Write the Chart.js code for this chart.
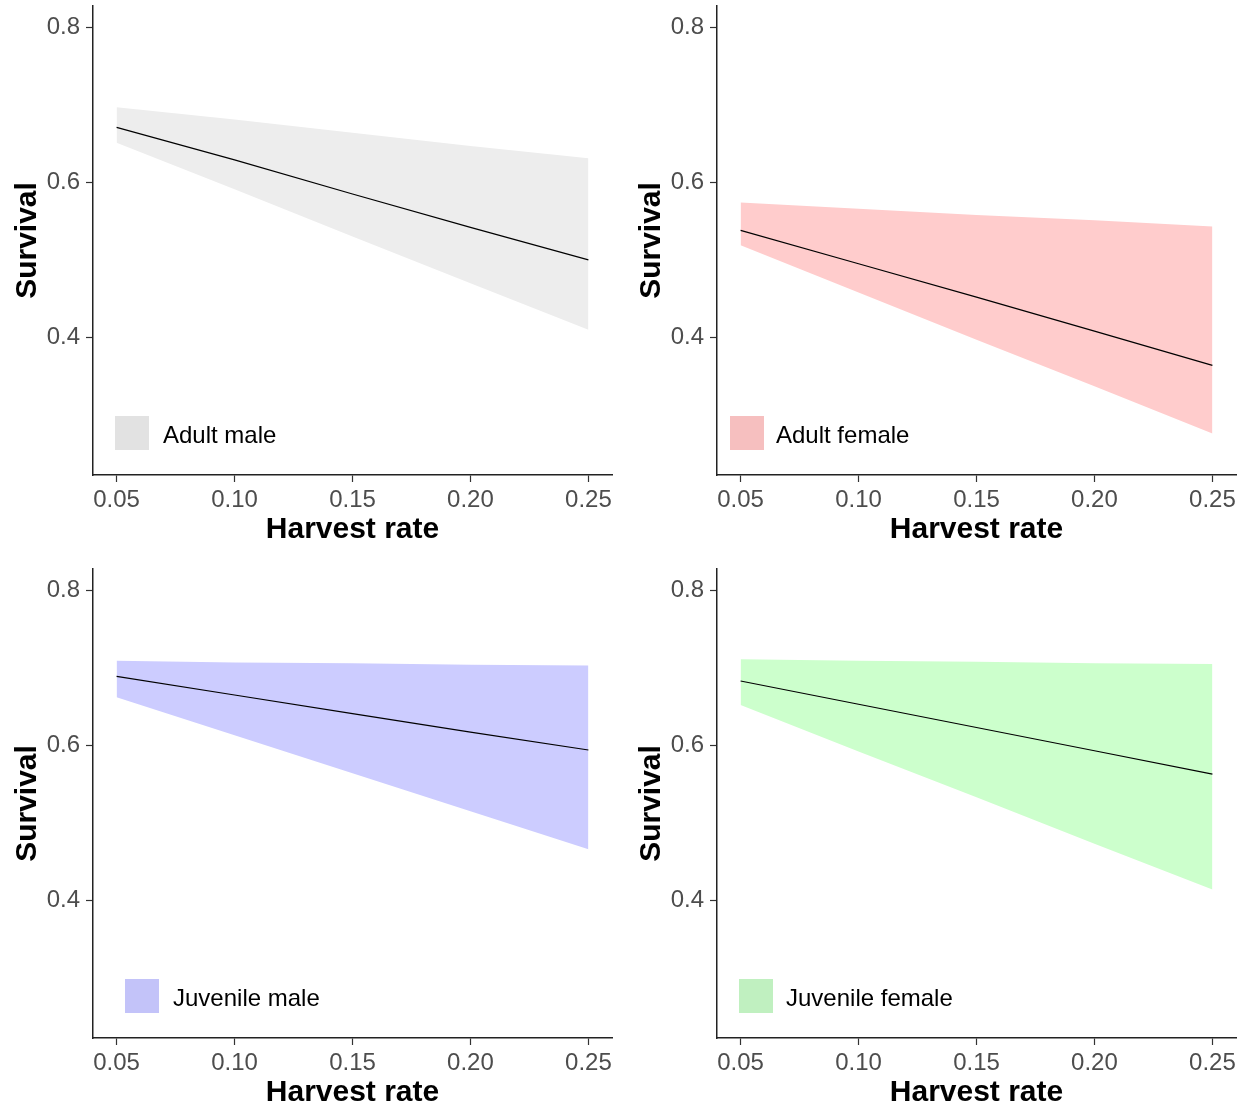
<!DOCTYPE html>
<html>
<head>
<meta charset="utf-8">
<script src="https://cdn.jsdelivr.net/npm/chart.js@4.4.1/dist/chart.umd.min.js"></script>
<style>
  body { margin: 0; background: #fff; }
  .panel { position: absolute; }
</style>
</head>
<body>
<div class="panel" style="left:0;top:0"><canvas id="p1" width="623" height="548"></canvas></div>
<div class="panel" style="left:624px;top:0"><canvas id="p2" width="623" height="548"></canvas></div>
<div class="panel" style="left:0;top:563px"><canvas id="p3" width="623" height="548"></canvas></div>
<div class="panel" style="left:624px;top:563px"><canvas id="p4" width="623" height="548"></canvas></div>
<script>
const harvestRate = [0.05, 0.10, 0.15, 0.20, 0.25];
const xTicks = [0.05, 0.10, 0.15, 0.20, 0.25];
const yTicks = [0.4, 0.6, 0.8];
const groupNames = ['Adult male', 'Adult female', 'Juvenile male', 'Juvenile female'];

// fitted survival + band, one value per harvest rate
const adultMaleFit   = [0.671, 0.629, 0.585, 0.542, 0.500];
const adultMaleUpper = [0.697, 0.681, 0.664, 0.647, 0.631];
const adultMaleLower = [0.651, 0.591, 0.530, 0.470, 0.410];

const adultFemaleFit   = [0.538, 0.495, 0.452, 0.408, 0.364];
const adultFemaleUpper = [0.574, 0.566, 0.558, 0.551, 0.543];
const adultFemaleLower = [0.519, 0.458, 0.397, 0.337, 0.276];

const juvMaleFit   = [0.689, 0.665, 0.641, 0.617, 0.594];
const juvMaleUpper = [0.709, 0.707, 0.706, 0.704, 0.703];
const juvMaleLower = [0.662, 0.613, 0.564, 0.515, 0.466];

const juvFemaleFit   = [0.683, 0.653, 0.623, 0.593, 0.563];
const juvFemaleUpper = [0.711, 0.709, 0.708, 0.706, 0.705];
const juvFemaleLower = [0.652, 0.592, 0.533, 0.473, 0.414];

const FONT = "'Liberation Sans', Arial, sans-serif";

const panels = [
  { id: 'p1', name: groupNames[0], fit: adultMaleFit, upper: adultMaleUpper, lower: adultMaleLower,
    band: '#ededed', key: '#e2e2e2', keyX: 115, textX: 163 },
  { id: 'p2', name: groupNames[1], fit: adultFemaleFit, upper: adultFemaleUpper, lower: adultFemaleLower,
    band: '#ffcccc', key: '#f6bfbf', keyX: 106, textX: 152 },
  { id: 'p3', name: groupNames[2], fit: juvMaleFit, upper: juvMaleUpper, lower: juvMaleLower,
    band: '#ccccff', key: '#c3c3f9', keyX: 125, textX: 173 },
  { id: 'p4', name: groupNames[3], fit: juvFemaleFit, upper: juvFemaleUpper, lower: juvFemaleLower,
    band: '#ccffcc', key: '#c0f0c0', keyX: 115, textX: 162 }
];

function pts(vals) {
  return harvestRate.map((x, i) => ({ x: x, y: vals[i] }));
}

// legend key drawn inside the plot, like ggplot's legend.position
function keyBox(p) {
  return {
    id: 'keyBox',
    afterDraw(chart) {
      const ctx = chart.ctx;
      ctx.save();
      ctx.fillStyle = p.key;
      ctx.fillRect(p.keyX, 416, 34, 34);
      ctx.fillStyle = '#000';
      ctx.font = '24px ' + FONT;
      ctx.textBaseline = 'middle';
      ctx.fillText(p.name, p.textX, 436);
      ctx.restore();
    }
  };
}

panels.forEach(p => {
  new Chart(document.getElementById(p.id), {
    type: 'line',
    data: {
      datasets: [
        { data: pts(p.upper), borderColor: 'transparent', borderWidth: 0, pointRadius: 0,
          backgroundColor: p.band, fill: '+1', order: 2 },
        { data: pts(p.lower), borderColor: 'transparent', borderWidth: 0, pointRadius: 0,
          fill: false, order: 3 },
        { data: pts(p.fit), borderColor: '#000', borderWidth: 1.2, pointRadius: 0,
          fill: false, order: 0 }
      ]
    },
    options: {
      responsive: false,
      animation: false,
      layout: { padding: { top: 6, right: 11, left: 0, bottom: 0 } },
      plugins: { legend: { display: false }, tooltip: { enabled: false } },
      scales: {
        x: {
          type: 'linear', min: 0.04, max: 0.26,
          afterBuildTicks: s => { s.ticks = xTicks.map(v => ({ value: v })); },
          afterFit: s => { s.height = 73; s.paddingLeft = 0; s.paddingRight = 0; },
          ticks: { callback: v => v.toFixed(2), color: '#4d4d4d', padding: 4,
                   maxRotation: 0, autoSkip: false, font: { size: 24, family: FONT } },
          grid: { drawOnChartArea: false, tickLength: 7, tickColor: '#333', tickWidth: 1.2 },
          border: { color: '#222', width: 1.5 },
          title: { display: true, text: 'Harvest rate', color: '#000', padding: 0,
                   font: { size: 30, weight: 'bold', family: FONT } }
        },
        y: {
          type: 'linear', min: 0.2225, max: 0.8275,
          afterBuildTicks: s => { s.ticks = yTicks.map(v => ({ value: v })); },
          afterFit: s => { s.width = 93; s.paddingTop = 0; s.paddingBottom = 0; },
          ticks: { callback: v => v.toFixed(1), color: '#4d4d4d', padding: 6,
                   font: { size: 24, family: FONT } },
          grid: { drawOnChartArea: false, tickLength: 7, tickColor: '#333', tickWidth: 1.2 },
          border: { color: '#222', width: 1.5 },
          title: { display: true, text: 'Survival', color: '#000', padding: 10,
                   font: { size: 30, weight: 'bold', family: FONT } }
        }
      }
    },
    plugins: [keyBox(p)]
  });
});
</script>
</body>
</html>
